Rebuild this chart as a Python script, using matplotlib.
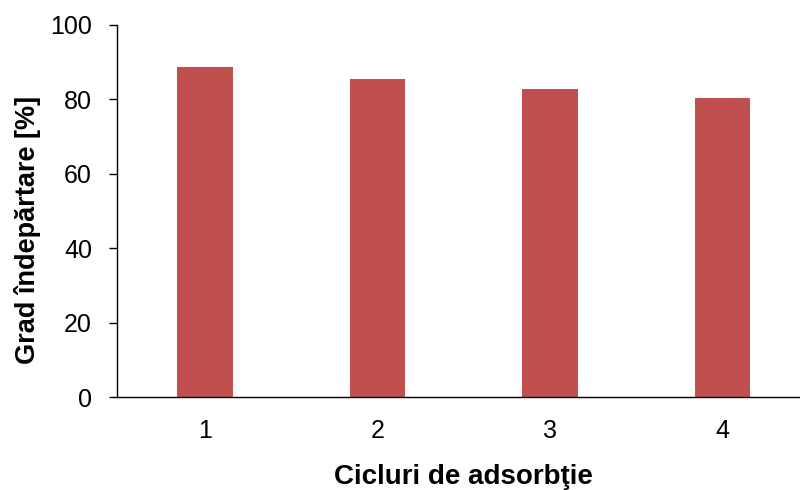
import matplotlib.pyplot as plt

plt.rcParams['font.family'] = ['Liberation Sans', 'DejaVu Sans']

cycles = ['1', '2', '3', '4']
removal = [88.8, 85.5, 82.8, 80.4]

fig = plt.figure(figsize=(8, 4.9), dpi=100)
ax = fig.add_axes([117 / 800, 93 / 490, 683 / 800, 372 / 490])

x = range(1, len(cycles) + 1)
ax.bar(x, removal, width=0.32, color='#C0504D')

ax.set_xlim(0.49, 0.49 + 683 / 172.5)
ax.set_ylim(0, 100)
ax.set_yticks(range(0, 101, 20))
ax.set_xticks(list(x))
ax.set_xticklabels(cycles)

ax.spines['top'].set_visible(False)
ax.spines['right'].set_visible(False)
for s in ('left', 'bottom'):
    ax.spines[s].set_linewidth(1.0)
    ax.spines[s].set_color('black')

ax.tick_params(axis='y', direction='out', length=6, width=1, labelsize=18, pad=12)
ax.tick_params(axis='x', length=0, labelsize=18, pad=16)

ax.set_xlabel('Cicluri de adsorbţie', fontsize=20, fontweight='bold')
ax.set_ylabel('Grad îndepărtare [%]', fontsize=19.5, fontweight='bold')

# labels sit slightly off the axes centre
ax.xaxis.set_label_coords(0.507, -0.18)
ax.yaxis.set_label_coords(-0.112, 0.45)

fig.savefig('out.png', dpi=100)
